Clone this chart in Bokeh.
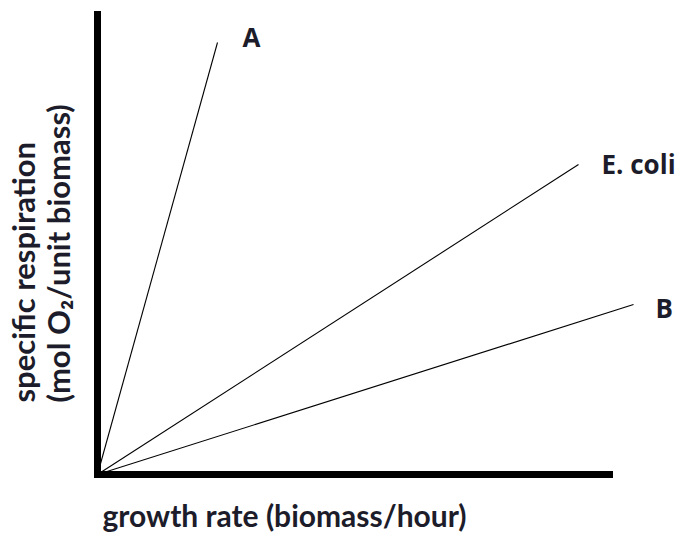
from math import pi
from bokeh.plotting import figure
from bokeh.models import Range1d, FixedTicker, Label, ColumnDataSource, LinearAxis
from bokeh.embed import file_html
from bokeh.resources import INLINE

# data
strains = ["A", "E. coli", "B"]
growth_end = [1.20, 4.81, 5.36]      # growth rate at end of each line
resp_end = [4.32, 3.10, 1.70]        # specific respiration at end of each line
x_title = "growth rate (biomass/hour)"
y_title = ["specific respiration", "(mol O\u2082/unit biomass)"]

TITLE_FONT = "Lato"
LABEL_FONT = "Open Sans"
TXT = "#1c1c2a"

W, H = 679, 533
OX, OY = 97, 474  # pixel position of the origin inside the canvas

p = figure(width=W, height=H,
           x_range=Range1d(-OX / 100, (W - OX) / 100),
           y_range=Range1d(-(H - OY) / 100, OY / 100),
           output_backend="svg", toolbar_location=None,
           x_axis_location=None, y_axis_location=None,
           min_border=0)
p.grid.visible = False
p.outline_line_color = None

xa = LinearAxis(fixed_location=0)
ya = LinearAxis(fixed_location=0)
for ax in (xa, ya):
    ax.ticker = FixedTicker(ticks=[])
    ax.minor_tick_line_color = None
    ax.major_tick_line_color = None
    ax.major_label_text_font_size = "0px"
    ax.axis_line_color = "black"
    ax.axis_line_width = 7
    ax.axis_line_cap = "square"
xa.bounds = (0, 5.115)
ya.bounds = (0, 4.605)
p.add_layout(xa, "below")
p.add_layout(ya, "left")

src = ColumnDataSource(dict(x0=[0] * len(strains), y0=[0] * len(strains),
                            x1=growth_end, y1=resp_end, name=strains))
p.segment(x0="x0", y0="y0", x1="x1", y1="y1", source=src, line_color="black", line_width=1.1)

offsets = {"A": (25, 6), "E. coli": (23, 1), "B": (22, -3)}
for n, gx, ry in zip(strains, growth_end, resp_end):
    dx, dy = offsets[n]
    p.add_layout(Label(x=gx, y=ry, x_offset=dx, y_offset=dy, text=n,
                       text_font=LABEL_FONT, text_font_style="bold", text_font_size="26px",
                       text_color=TXT, text_align="left", text_baseline="middle"))

p.add_layout(Label(x=0.05, y=-0.405, text=x_title, text_font=TITLE_FONT, text_font_style="bold",
                   text_font_size="30px", text_color=TXT, text_align="left",
                   text_baseline="middle"))
p.add_layout(Label(x=-0.75, y=0.72, text=y_title[0], angle=pi / 2, text_font=TITLE_FONT,
                   text_font_style="bold", text_font_size="31px", text_color=TXT,
                   text_align="left", text_baseline="middle"))
p.add_layout(Label(x=-0.40, y=0.72, text=y_title[1], angle=pi / 2, text_font=TITLE_FONT,
                   text_font_style="bold", text_font_size="31px", text_color=TXT,
                   text_align="left", text_baseline="middle"))

open("out.html", "w").write(file_html(p, INLINE))
